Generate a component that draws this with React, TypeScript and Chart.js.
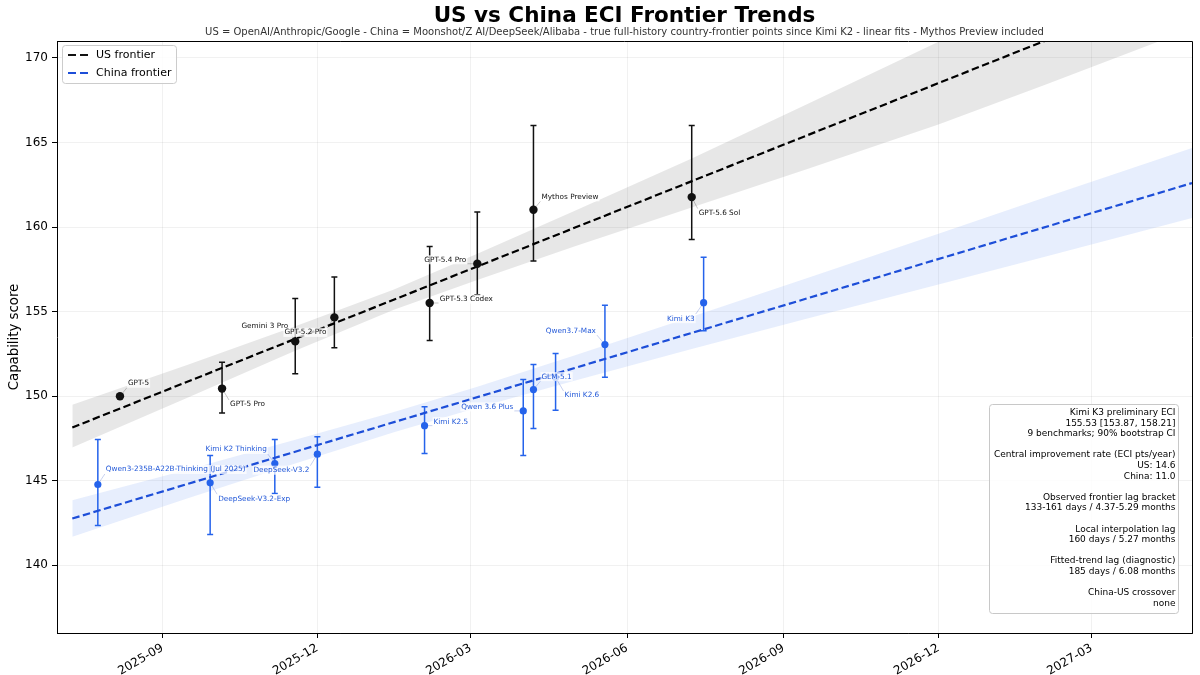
import React, { useEffect, useRef } from 'react';
import { Chart, registerables } from 'chart.js';

Chart.register(...registerables);

// ---------------- data ----------------
const usModels = ['GPT-5', 'GPT-5 Pro', 'Gemini 3 Pro', 'GPT-5.2 Pro', 'GPT-5.3 Codex', 'GPT-5.4 Pro', 'Mythos Preview', 'GPT-5.6 Sol'];
const usDates = ['2025-08-07', '2025-10-06', '2025-11-18', '2025-12-11', '2026-02-05', '2026-03-05', '2026-04-07', '2026-07-09'];
const usScores = [150.0, 150.45, 153.24, 154.66, 155.51, 157.83, 161.02, 161.77];
const usCiLow = [null, 149.0, 151.32, 152.87, 153.3, 156.0, 158.0, 159.27];
const usCiHigh = [null, 152.0, 155.78, 157.05, 158.85, 160.89, 166.0, 166.0];

const cnModels = ['Qwen3-235B-A22B-Thinking (Jul 2025)', 'DeepSeek-V3.2-Exp', 'Kimi K2 Thinking', 'DeepSeek-V3.2', 'Kimi K2.5', 'Qwen 3.6 Plus', 'GLM-5.1', 'Kimi K2.6', 'Qwen3.7-Max', 'Kimi K3'];
const cnDates = ['2025-07-25', '2025-09-29', '2025-11-06', '2025-12-01', '2026-02-02', '2026-04-01', '2026-04-07', '2026-04-20', '2026-05-19', '2026-07-16'];
const cnScores = [144.78, 144.88, 146.02, 146.57, 148.26, 149.13, 150.39, 151.1, 153.05, 155.53];
const cnCiLow = [142.36, 141.83, 144.25, 144.62, 146.61, 146.49, 148.09, 149.17, 151.12, 153.87];
const cnCiHigh = [147.44, 146.49, 147.44, 147.6, 149.37, 150.98, 151.88, 152.52, 155.37, 158.21];

const fitDates = ['2025-07-10', '2027-04-29'];
const usFit = [148.15, 174.47];
const cnFit = [142.77, 162.6];

const bandDates = ['2025-07-10', '2025-09-15', '2025-11-18', '2026-01-15', '2026-03-05', '2026-05-01', '2026-07-09', '2026-09-15', '2026-12-01', '2027-02-01', '2027-04-29'];
const usBandUpper = [149.5, 151.83, 154.14, 156.31, 158.42, 160.95, 164.06, 167.28, 170.96, 173.84, 177.87];
const usBandLower = [146.96, 149.88, 152.69, 155.11, 156.87, 158.85, 161.16, 163.43, 166.06, 168.39, 171.72];
const cnBandUpper = [143.85, 145.64, 147.42, 149.07, 150.56, 152.41, 154.69, 156.99, 159.61, 161.73, 164.67];
const cnBandLower = [141.69, 143.94, 146.02, 147.87, 149.32, 150.91, 152.79, 154.59, 156.61, 158.23, 160.53];

const xTickLabels = ['2025-09', '2025-12', '2026-03', '2026-06', '2026-09', '2026-12', '2027-03'];
const yTicks = [140, 145, 150, 155, 160, 165, 170];
const xRange = ['2025-07-01', '2027-04-29'];
const yRange = [136.0, 171.0];

const titleText = 'US vs China ECI Frontier Trends';
const subtitleText = 'US = OpenAI/Anthropic/Google - China = Moonshot/Z AI/DeepSeek/Alibaba - true full-history country-frontier points since Kimi K2 - linear fits - Mythos Preview included';
const yAxisTitle = 'Capability score';
const legendLabels = ['US frontier', 'China frontier'];
const infoLines = [
  'Kimi K3 preliminary ECI',
  '155.53 [153.87, 158.21]',
  '9 benchmarks; 90% bootstrap CI',
  '',
  'Central improvement rate (ECI pts/year)',
  'US: 14.6',
  'China: 11.0',
  '',
  'Observed frontier lag bracket',
  '133-161 days / 4.37-5.29 months',
  '',
  'Local interpolation lag',
  '160 days / 5.27 months',
  '',
  'Fitted-trend lag (diagnostic)',
  '185 days / 6.08 months',
  '',
  'China-US crossover',
  'none',
];

// ---------------- styles ----------------
const FONT = 'DejaVu Sans';
const US_COLOR = '#111111';
const CN_LINE = '#1d4ed8';
const CN_POINT = '#2563eb';
const CN_TEXT = '#2258d8';
const US_BAND = 'rgba(0,0,0,0.095)';
const CN_BAND = 'rgba(37,99,235,0.11)';
// label placement: [dx, dy, align] relative to the point (pixels)
const usLabelPos: [number, number, CanvasTextAlign][] = [
  [8, -13, 'left'], [8, 16, 'left'], [-7, -15, 'right'], [-8, 15, 'right'],
  [10, -4, 'left'], [-11, -4, 'right'], [8, -13, 'left'], [7, 16, 'left'],
];
const cnLabelPos: [number, number, CanvasTextAlign][] = [
  [8, -15, 'left'], [8, 16, 'left'], [-8, -14, 'right'], [-8, 16, 'right'],
  [9, -4, 'left'], [-10, -4, 'right'], [8, -13, 'left'], [9, 18, 'left'],
  [-9, -14, 'right'], [-9, 16, 'right'],
];

const toMs = (s: string) => Date.parse(s + 'T00:00:00Z');

export default function App() {
  const ref = useRef<HTMLCanvasElement>(null);

  useEffect(() => {
    document.body.style.margin = '0';
    const canvas = ref.current!;
    const pts = (dates: string[], vals: number[]) => dates.map((d, i) => ({ x: toMs(d), y: vals[i] }));

    const drawErr = (chart: any, dates: string[], lo: (number | null)[], hi: (number | null)[], color: string) => {
      const { ctx, scales } = chart;
      ctx.save();
      ctx.strokeStyle = color;
      ctx.lineWidth = 1.5;
      dates.forEach((d, i) => {
        if (lo[i] == null || hi[i] == null) return;
        const x = scales.x.getPixelForValue(toMs(d));
        const y1 = scales.y.getPixelForValue(lo[i]);
        const y2 = scales.y.getPixelForValue(hi[i]);
        ctx.beginPath();
        ctx.moveTo(x, y1); ctx.lineTo(x, y2);
        ctx.moveTo(x - 3, y1); ctx.lineTo(x + 3, y1);
        ctx.moveTo(x - 3, y2); ctx.lineTo(x + 3, y2);
        ctx.stroke();
      });
      ctx.restore();
    };

    const labelBoxes = (chart: any, names: string[], dates: string[], vals: number[], pos: [number, number, CanvasTextAlign][]) => {
      const { ctx, scales } = chart;
      ctx.save();
      ctx.font = `7.3px "${FONT}"`;
      const out = names.map((n, i) => {
        const px = scales.x.getPixelForValue(toMs(dates[i]));
        const py = scales.y.getPixelForValue(vals[i]);
        const w = ctx.measureText(n).width;
        const [dx, dy, al] = pos[i];
        const ax = px + dx;
        const left = al === 'left' ? ax : ax - w;
        const ly = py + dy;
        return { n, px, py, ax, ly, left, right: left + w, al };
      });
      ctx.restore();
      return out;
    };

    const drawLeaders = (chart: any, boxes: any[], color: string) => {
      const { ctx } = chart;
      ctx.save();
      ctx.strokeStyle = color;
      ctx.lineWidth = 0.8;
      boxes.forEach((b) => {
        const bx = Math.max(b.left - 1, Math.min(b.px, b.right + 1));
        const by = Math.max(b.ly - 4.5, Math.min(b.py, b.ly + 4.5));
        ctx.beginPath();
        ctx.moveTo(b.px, b.py);
        ctx.lineTo(bx, by);
        ctx.stroke();
      });
      ctx.restore();
    };

    const drawLabels = (chart: any, boxes: any[], color: string) => {
      const { ctx } = chart;
      ctx.save();
      ctx.font = `7.3px "${FONT}"`;
      ctx.textBaseline = 'middle';
      boxes.forEach((b) => {
        ctx.fillStyle = 'rgba(255,255,255,0.75)';
        ctx.fillRect(b.left - 1, b.ly - 4.5, b.right - b.left + 2, 9);
        ctx.fillStyle = color;
        ctx.textAlign = b.al;
        ctx.fillText(b.n, b.ax, b.ly);
      });
      ctx.restore();
    };

    const decor = {
      id: 'decor',
      beforeDatasetsDraw(chart: any) {
        const { ctx, chartArea } = chart;
        ctx.save();
        ctx.beginPath();
        ctx.rect(chartArea.left, chartArea.top, chartArea.right - chartArea.left, chartArea.bottom - chartArea.top);
        ctx.clip();
        drawErr(chart, usDates, usCiLow, usCiHigh, US_COLOR);
        drawErr(chart, cnDates, cnCiLow, cnCiHigh, CN_POINT);
        drawLeaders(chart, labelBoxes(chart, usModels, usDates, usScores, usLabelPos), 'rgba(0,0,0,0.28)');
        drawLeaders(chart, labelBoxes(chart, cnModels, cnDates, cnScores, cnLabelPos), 'rgba(60,90,200,0.35)');
        ctx.restore();
      },
      afterDatasetsDraw(chart: any) {
        drawLabels(chart, labelBoxes(chart, usModels, usDates, usScores, usLabelPos), US_COLOR);
        drawLabels(chart, labelBoxes(chart, cnModels, cnDates, cnScores, cnLabelPos), CN_TEXT);
      },
      afterDraw(chart: any) {
        const { ctx, chartArea } = chart;
        const cx = (chartArea.left + chartArea.right) / 2;
        ctx.save();
        // top & right spines
        ctx.strokeStyle = '#000';
        ctx.lineWidth = 1;
        ctx.beginPath();
        ctx.moveTo(chartArea.left, chartArea.top + 0.5);
        ctx.lineTo(chartArea.right + 0.5, chartArea.top + 0.5);
        ctx.lineTo(chartArea.right + 0.5, chartArea.bottom);
        ctx.stroke();
        // title + subtitle
        ctx.fillStyle = '#000';
        ctx.textAlign = 'center';
        ctx.textBaseline = 'middle';
        ctx.font = `bold 21.5px "${FONT}"`;
        ctx.fillText(titleText, cx, 16);
        ctx.fillStyle = '#333';
        ctx.font = `10px "${FONT}"`;
        ctx.fillText(subtitleText, cx, 32);

        // legend
        const lx = chartArea.left + 5, ly = chartArea.top + 4;
        ctx.beginPath();
        ctx.roundRect(lx + 0.5, ly + 0.5, 114, 38, 3);
        ctx.fillStyle = 'rgba(255,255,255,0.85)';
        ctx.fill();
        ctx.strokeStyle = '#cccccc';
        ctx.lineWidth = 1;
        ctx.stroke();
        ctx.font = `11px "${FONT}"`;
        ctx.textAlign = 'left';
        const legColors = [US_COLOR, CN_LINE];
        legendLabels.forEach((t, i) => {
          const y = ly + 10 + i * 18;
          ctx.strokeStyle = legColors[i];
          ctx.lineWidth = 2.2;
          ctx.setLineDash([8, 4]);
          ctx.beginPath();
          ctx.moveTo(lx + 6, y);
          ctx.lineTo(lx + 30, y);
          ctx.stroke();
          ctx.setLineDash([]);
          ctx.fillStyle = '#000';
          ctx.fillText(t, lx + 34, y);
        });

        // info box
        const bx = 989, by = 404, bw = 189, bh = 209;
        ctx.beginPath();
        ctx.roundRect(bx + 0.5, by + 0.5, bw, bh, 3);
        ctx.fillStyle = 'rgba(255,255,255,0.85)';
        ctx.fill();
        ctx.strokeStyle = '#c8c8c8';
        ctx.lineWidth = 1;
        ctx.stroke();
        ctx.fillStyle = '#000';
        ctx.font = `9px "${FONT}"`;
        ctx.textAlign = 'right';
        infoLines.forEach((t, i) => {
          if (t) ctx.fillText(t, bx + bw - 2.5, by + 8.7 + i * 10.59);
        });
        ctx.restore();
      },
    };

    const gridCol = 'rgba(0,0,0,0.07)';
    const chart = new Chart(canvas, {
      type: 'line',
      data: {
        datasets: [
          { label: 'usUpper', data: pts(bandDates, usBandUpper), borderWidth: 0, borderColor: 'rgba(0,0,0,0)', pointRadius: 0, fill: '+1', backgroundColor: US_BAND, order: 2 },
          { label: 'usLower', data: pts(bandDates, usBandLower), borderWidth: 0, borderColor: 'rgba(0,0,0,0)', pointRadius: 0, fill: false, order: 2 },
          { label: 'cnUpper', data: pts(bandDates, cnBandUpper), borderWidth: 0, borderColor: 'rgba(0,0,0,0)', pointRadius: 0, fill: '+1', backgroundColor: CN_BAND, order: 2 },
          { label: 'cnLower', data: pts(bandDates, cnBandLower), borderWidth: 0, borderColor: 'rgba(0,0,0,0)', pointRadius: 0, fill: false, order: 2 },
          { label: 'US frontier', data: pts(fitDates, usFit), borderColor: '#000', borderWidth: 2.2, borderDash: [7.5, 3.5], pointRadius: 0, fill: false, order: 1 },
          { label: 'China frontier', data: pts(fitDates, cnFit), borderColor: CN_LINE, borderWidth: 2.2, borderDash: [7.5, 3.5], pointRadius: 0, fill: false, order: 1 },
          { label: 'US points', data: pts(usDates, usScores), showLine: false, pointRadius: 4.2, pointBackgroundColor: US_COLOR, pointBorderWidth: 0, borderColor: US_COLOR, order: 0 },
          { label: 'China points', data: pts(cnDates, cnScores), showLine: false, pointRadius: 3.6, pointBackgroundColor: CN_POINT, pointBorderWidth: 0, borderColor: CN_POINT, order: 0 },
        ] as any,
      },
      options: {
        animation: false,
        responsive: false,
        events: [],
        layout: { padding: { top: 41, right: 8, left: 0, bottom: 0 } },
        plugins: {
          legend: { display: false },
          tooltip: { enabled: false },
          title: { display: false },
          filler: { drawTime: 'beforeDatasetsDraw' } as any,
        },
        scales: {
          x: {
            type: 'linear',
            min: toMs(xRange[0]),
            max: toMs(xRange[1]),
            afterBuildTicks: (s: any) => { s.ticks = xTickLabels.map((l) => ({ value: toMs(l + '-01') })); },
            afterFit: (s: any) => { s.height = 42; },
            ticks: {
              autoSkip: false,
              minRotation: 30,
              maxRotation: 30,
              padding: 3,
              color: '#000',
              font: { family: FONT, size: 12 },
              callback: (v: any) => {
                const d = new Date(Number(v));
                return `${d.getUTCFullYear()}-${String(d.getUTCMonth() + 1).padStart(2, '0')}`;
              },
            },
            grid: { color: gridCol, lineWidth: 0.8, tickColor: '#000', tickLength: 5, tickWidth: 1 },
            border: { color: '#000', width: 1 },
          },
          y: {
            type: 'linear',
            min: yRange[0],
            max: yRange[1],
            afterBuildTicks: (s: any) => { s.ticks = yTicks.map((v) => ({ value: v })); },
            afterFit: (s: any) => { s.width = 57; },
            ticks: { padding: 4, color: '#000', font: { family: FONT, size: 12 } },
            grid: { color: gridCol, lineWidth: 0.8, tickColor: '#000', tickLength: 5, tickWidth: 1 },
            border: { color: '#000', width: 1 },
            title: { display: true, text: yAxisTitle, color: '#000', font: { family: FONT, size: 13.3 }, padding: { top: 7, bottom: 0 } },
          },
        },
      },
      plugins: [decor],
    });
    return () => chart.destroy();
  }, []);

  return (
    <div style={{ width: 1200, height: 675, position: 'relative', background: '#fff' }}>
      <canvas ref={ref} width={1200} height={675} style={{ display: 'block', width: 1200, height: 675 }} />
    </div>
  );
}
